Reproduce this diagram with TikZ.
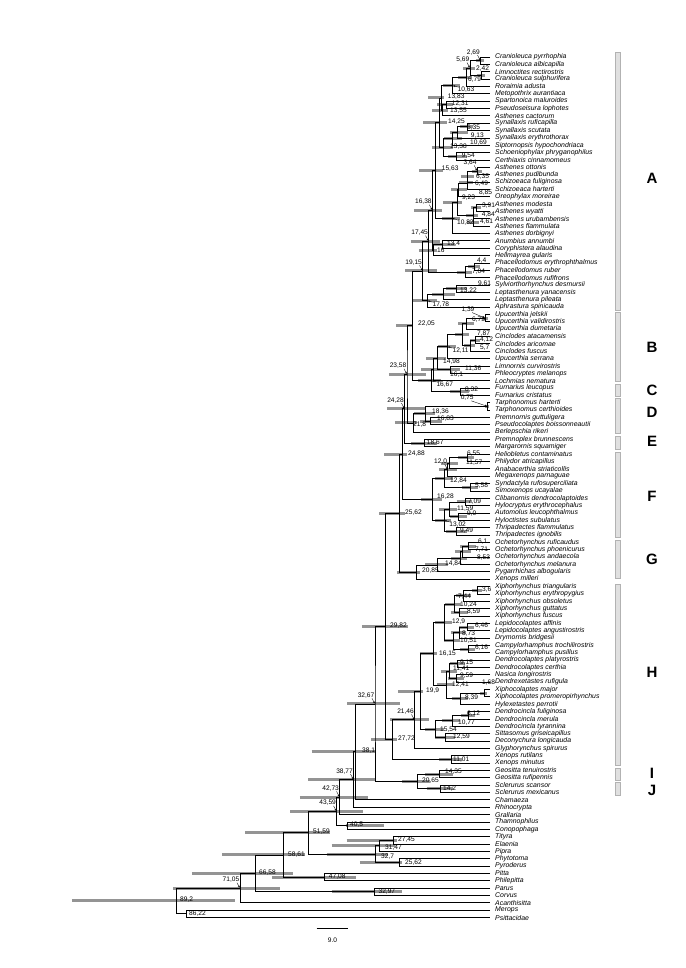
\documentclass[tikz,border=0pt]{standalone}
\usepackage{fontspec}
\setmainfont{Liberation Sans}
\usetikzlibrary{calc,arrows.meta}
\pgfdeclarelayer{bg}
\pgfsetlayers{bg,main}
\def\dc#1{\dcA#1..\relax}
\def\dcA#1.#2.#3\relax{#1\ifx\relax#2\relax\else,#2\fi}
\newcommand\tip[3]{%
  \expandafter\xdef\csname ty#1\endcsname{#2}%
  \coordinate (#1) at (490,{57+(#2-1)*7.355});
  \node[taxon] (lab#1) at (495,{57+(#2-1)*7.355}) {#3};}
\newcommand\nd[7][dflt]{%
  \pgfmathsetmacro\ndy{(\csname ty#4\endcsname+\csname ty#5\endcsname)/2}%
  \expandafter\xdef\csname ty#2\endcsname{\ndy}%
  \coordinate (#2) at ({490-3.52*#3},{57+(\ndy-1)*7.355});
  \begin{pgfonlayer}{bg}
  \draw[hpd] ({490-3.52*#7},{57+(\ndy-1)*7.355}) -- ({490-3.52*#6},{57+(\ndy-1)*7.355});
  \end{pgfonlayer}
  \draw[br] (#4) -| (#2) |- (#5);
  \def\curnd{#2}%
  \node[nlab,#1] (l#2) {\dc{#3}};}
\tikzset{
  br/.style={line width=0.8pt, draw=black},
  hpd/.style={line width=3pt, draw=black!42},
  nlab/.style={font=\fontsize{6.6}{7}\selectfont, inner sep=0pt},
  taxon/.style={anchor=west, font=\fontsize{6.9}{8}\selectfont\itshape, inner sep=0pt},
  arr/.style={-{Stealth[length=2pt,width=1.8pt]}, line width=0.35pt, shorten >=0.6pt},
  dflt/.style={at={(\curnd)}, anchor=west, xshift=4.5pt},
  L/.style 2 args={at={(#1,#2)}, anchor=west},
  ua/.style={at={(\curnd)}, anchor=south east, xshift=-0.5pt, yshift=5.5pt,
    append after command={([xshift=-2.5pt]\tikzlastnode.south east) edge[arr] (\curnd)}},
  da/.style={at={(\curnd)}, anchor=north west, xshift=5pt, yshift=-1.5pt,
    append after command={(\tikzlastnode.north west) edge[arr] (\curnd)}},
  cbar/.style={fill=black!12, draw=black!30, line width=0.4pt},
  clab/.style={font=\fontsize{15}{15}\selectfont\bfseries, inner sep=0pt}
}
\begin{document}
\begin{tikzpicture}[x=1pt,y=-1pt]
\useasboundingbox (0,0) rectangle (685,968);
\begin{pgfonlayer}{bg}
\fill[white] (0,0) rectangle (685,968);
\end{pgfonlayer}
% tips
\tip{T1}{1}{Cranioleuca pyrrhophia}
\tip{T2}{2}{Cranioleuca albicapilla}
\tip{T3}{3}{Limnoctites rectirostris}
\tip{T4}{4}{Cranioleuca sulphurifera}
\tip{T5}{5}{Roraimia adusta}
\tip{T6}{6}{Metopothrix aurantiaca}
\tip{T7}{7}{Spartonoica maluroides}
\tip{T8}{8}{Pseudoseisura lophotes}
\tip{T9}{9}{Asthenes cactorum}
\tip{T10}{10}{Synallaxis ruficapilla}
\tip{T11}{11}{Synallaxis scutata}
\tip{T12}{12}{Synallaxis erythrothorax}
\tip{T13}{13}{Siptornopsis hypochondriaca}
\tip{T14}{14}{Schoeniophylax phryganophilus}
\tip{T15}{15}{Certhiaxis cinnamomeus}
\tip{T16}{16}{Asthenes ottonis}
\tip{T17}{17}{Asthenes pudibunda}
\tip{T18}{18}{Schizoeaca fuliginosa}
\tip{T19}{19}{Schizoeaca harterti}
\tip{T20}{20}{Oreophylax moreirae}
\tip{T21}{21}{Asthenes modesta}
\tip{T22}{22}{Asthenes wyatti}
\tip{T23}{23}{Asthenes urubambensis}
\tip{T24}{24}{Asthenes flammulata}
\tip{T25}{25}{Asthenes dorbignyi}
\tip{T26}{26}{Anumbius annumbi}
\tip{T27}{27}{Coryphistera alaudina}
\tip{T28}{28}{Hellmayrea gularis}
\tip{T29}{29}{Phacellodomus erythrophthalmus}
\tip{T30}{30}{Phacellodomus ruber}
\tip{T31}{31}{Phacellodomus rufifrons}
\tip{T32}{32}{Sylviorthorhynchus desmursii}
\tip{T33}{33}{Leptasthenura yanacensis}
\tip{T34}{34}{Leptasthenura pileata}
\tip{T35}{35}{Aphrastura spinicauda}
\tip{T36}{36}{Upucerthia jelskii}
\tip{T37}{37}{Upucerthia validirostris}
\tip{T38}{38}{Upucerthia dumetaria}
\tip{T39}{39}{Cinclodes atacamensis}
\tip{T40}{40}{Cinclodes aricomae}
\tip{T41}{41}{Cinclodes fuscus}
\tip{T42}{42}{Upucerthia serrana}
\tip{T43}{43}{Limnornis curvirostris}
\tip{T44}{44}{Phleocryptes melanops}
\tip{T45}{45}{Lochmias nematura}
\tip{T46}{46}{Furnarius leucopus}
\tip{T47}{47}{Furnarius cristatus}
\tip{T48}{48}{Tarphonomus harterti}
\tip{T49}{49}{Tarphonomus certhioides}
\tip{T50}{50}{Premnornis guttuligera}
\tip{T51}{51}{Pseudocolaptes boissonneautii}
\tip{T52}{52}{Berlepschia rikeri}
\tip{T53}{53}{Premnoplex brunnescens}
\tip{T54}{54}{Margarornis squamiger}
\tip{T55}{55}{Heliobletus contaminatus}
\tip{T56}{56}{Philydor atricapillus}
\tip{T57}{57}{Anabacerthia striaticollis}
\tip{T58}{58}{Megaxenops parnaguae}
\tip{T59}{59}{Syndactyla rufosuperciliata}
\tip{T60}{60}{Simoxenops ucayalae}
\tip{T61}{61}{Clibanornis dendrocolaptoides}
\tip{T62}{62}{Hylocryptus erythrocephalus}
\tip{T63}{63}{Automolus leucophthalmus}
\tip{T64}{64}{Hyloctistes subulatus}
\tip{T65}{65}{Thripadectes flammulatus}
\tip{T66}{66}{Thripadectes ignobilis}
\tip{T67}{67}{Ochetorhynchus ruficaudus}
\tip{T68}{68}{Ochetorhynchus phoenicurus}
\tip{T69}{69}{Ochetorhynchus andaecola}
\tip{T70}{70}{Ochetorhynchus melanura}
\tip{T71}{71}{Pygarrhichas albogularis}
\tip{T72}{72}{Xenops milleri}
\tip{T73}{73}{Xiphorhynchus triangularis}
\tip{T74}{74}{Xiphorhynchus erythropygius}
\tip{T75}{75}{Xiphorhynchus obsoletus}
\tip{T76}{76}{Xiphorhynchus guttatus}
\tip{T77}{77}{Xiphorhynchus fuscus}
\tip{T78}{78}{Lepidocolaptes affinis}
\tip{T79}{79}{Lepidocolaptes angustirostris}
\tip{T80}{80}{Drymornis bridgesii}
\tip{T81}{81}{Campylorhamphus trochilirostris}
\tip{T82}{82}{Campylorhamphus pusillus}
\tip{T83}{83}{Dendrocolaptes platyrostris}
\tip{T84}{84}{Dendrocolaptes certhia}
\tip{T85}{85}{Nasica longirostris}
\tip{T86}{86}{Dendrexetastes rufigula}
\tip{T87}{87}{Xiphocolaptes major}
\tip{T88}{88}{Xiphocolaptes promeropirhynchus}
\tip{T89}{89}{Hylexetastes perrotii}
\tip{T90}{90}{Dendrocincla fuliginosa}
\tip{T91}{91}{Dendrocincla merula}
\tip{T92}{92}{Dendrocincla tyrannina}
\tip{T93}{93}{Sittasomus griseicapillus}
\tip{T94}{94}{Deconychura longicauda}
\tip{T95}{95}{Glyphorynchus spirurus}
\tip{T96}{96}{Xenops rutilans}
\tip{T97}{97}{Xenops minutus}
\tip{T98}{98}{Geositta tenuirostris}
\tip{T99}{99}{Geositta rufipennis}
\tip{T100}{100}{Sclerurus scansor}
\tip{T101}{101}{Sclerurus mexicanus}
\tip{T102}{102}{Chamaeza}
\tip{T103}{103}{Rhinocrypta}
\tip{T104}{104}{Grallaria}
\tip{T105}{105}{Thamnophilus}
\tip{T106}{106}{Conopophaga}
\tip{T107}{107}{Tityra}
\tip{T108}{108}{Elaenia}
\tip{T109}{109}{Pipra}
\tip{T110}{110}{Phytotoma}
\tip{T111}{111}{Pyroderus}
\tip{T112}{112}{Pitta}
\tip{T113}{113}{Philepitta}
\tip{T114}{114}{Parus}
\tip{T115}{115}{Corvus}
\tip{T116}{116}{Acanthisitta}
\tip{T117}{117}{Merops}
\tip{T118}{118}{Psittacidae}
% clade A
\nd[ua]{n1}{2.69}{T1}{T2}{1.8}{4.0}
\nd[L={476}{68.3}]{n2}{2.42}{T3}{T4}{1.5}{3.8}
\nd[ua]{n3}{5.69}{n1}{n2}{4.2}{7.6}
\nd[L={468}{80}]{n4}{6.79}{n3}{T5}{5.0}{9.0}
\nd[da]{n5}{10.63}{n4}{T6}{8.4}{13.4}
\nd[L={451.7}{104}]{n6}{12.31}{T7}{T8}{10.5}{15.0}
\nd[L={450}{111}]{n7}{13.55}{n6}{T9}{11.8}{16.5}
\nd[L={447.7}{96.7}]{n8}{13.83}{n5}{n7}{13.0}{17.6}
\nd[L={467}{128}]{n9}{6.35}{T10}{T11}{4.8}{8.5}
\nd[L={470.7}{135.7}]{n10}{9.13}{n9}{T12}{6.2}{11.4}
\nd[L={470}{142.3}]{n11}{10.69}{n10}{T13}{8.0}{13.0}
\nd[L={461.7}{155.7}]{n12}{9.54}{T14}{T15}{6.5}{12.0}
\nd[L={450}{146.7}]{n13}{13.38}{n11}{n12}{10.5}{16.5}
\nd[L={448}{121.7}]{n14}{14.25}{n8}{n13}{12.2}{19.0}
\nd[ua]{n15}{3.64}{T16}{T17}{2.2}{5.2}
\nd[L={476}{176.7}]{n16}{6.35}{n15}{T18}{4.5}{8.3}
\nd[L={475}{184}]{n17}{6.49}{n16}{T19}{4.8}{8.8}
\nd[L={479}{192.3}]{n18}{8.85}{n17}{T20}{6.5}{11.0}
\nd[L={482}{205.7}]{n19}{3.91}{T21}{T22}{2.5}{5.5}
\nd[L={480}{222}]{n20}{4.61}{T23}{T24}{3.0}{6.4}
\nd[L={481.7}{215}]{n21}{4.84}{n19}{n20}{3.5}{6.8}
\nd[L={462}{197.3}]{n22}{9.23}{n18}{n21}{8.0}{13.4}
\nd[da]{n23}{10.82}{n22}{T25}{8.5}{13.5}
\nd[L={441.7}{169}]{n24}{15.63}{n14}{n23}{13.4}{20.2}
\nd[L={447}{244}]{n25}{13.4}{T26}{T27}{10}{16.5}
\nd[L={437}{250}]{n26}{16}{n25}{T28}{15.1}{20.2}
\nd[ua]{n27}{16.38}{n24}{n26}{13.5}{21.6}
\nd[L={477}{260.7}]{n28}{4.4}{T29}{T30}{2.8}{6.2}
\nd[L={472}{271.7}]{n29}{7.04}{n28}{T31}{5.0}{9.5}
\nd[ua]{n30}{17.45}{n27}{n29}{14.2}{22.5}
\nd[L={478}{284}]{n31}{9.61}{T32}{T33}{6.5}{12.5}
\nd[L={460}{290.7}]{n32}{13.22}{n31}{T34}{10}{16.5}
\nd[da]{n33}{17.78}{n32}{T35}{15.1}{22.0}
\nd[ua]{n34}{19.15}{n30}{n33}{15.1}{24.1}
% clade B, C
\nd[ua,xshift=-10pt]{n35}{1.39}{T36}{T37}{0.7}{2.3}
\nd[L={472}{320}]{n36}{6.73}{n35}{T38}{4.5}{9}
\nd[L={480}{340}]{n37}{4.12}{T39}{T40}{2.8}{5.6}
\nd[L={480}{347.3}]{n38}{5.7}{n37}{T41}{4.2}{7.4}
\nd[L={477}{333.3}]{n39}{7.87}{n36}{n38}{6}{10}
\nd[da]{n40}{12.11}{n39}{T42}{9.8}{14.8}
\nd[L={465}{369}]{n41}{11.36}{T43}{T44}{8.5}{14.5}
\nd[L={443}{361.7}]{n42}{14.98}{n40}{n41}{12.5}{18.2}
\nd[L={450}{374.3}]{n43}{16.1}{n42}{T45}{13.5}{19.5}
\nd[L={465}{390}]{n44}{8.32}{T46}{T47}{6}{11.5}
\nd[da]{n45}{16.67}{n43}{n44}{14}{20.5}
\nd[L={418}{323.3}]{n46}{22.05}{n34}{n45}{22.0}{26.7}
% clade D, E
\nd[ua,xshift=-13pt]{n47}{0.75}{T48}{T49}{0.3}{1.3}
\nd[L={437}{419}]{n48}{16.83}{T50}{T51}{13.5}{20}
\nd[L={432}{411.7}]{n49}{18.36}{n47}{n48}{15.5}{21.5}
\nd[L={413}{425}]{n50}{21.8}{n49}{T52}{20.8}{27}
\nd[ua]{n51}{23.58}{n46}{n50}{18.2}{28.7}
\nd[L={426.7}{442.3}]{n52}{18.67}{T53}{T54}{15}{22.5}
\nd[ua]{n53}{24.28}{n51}{n52}{18.5}{29.3}
% clade F
\nd[L={467}{454}]{n54}{6.55}{T55}{T56}{4.5}{9}
\nd[L={466}{462.3}]{n55}{11.57}{n54}{T57}{9}{14}
\nd[ua]{n56}{12.0}{n55}{T58}{9.5}{14.5}
\nd[L={475}{486}]{n57}{5.58}{T59}{T60}{3.5}{8}
\nd[L={450}{480.7}]{n58}{12.84}{n56}{n57}{10.5}{15.5}
\nd[L={468}{501.7}]{n59}{7.09}{T61}{T62}{5}{9.5}
\nd[L={467}{513.3}]{n60}{9.0}{T63}{T64}{6.5}{11.5}
\nd[L={457}{508.3}]{n61}{11.59}{n59}{n60}{9.5}{14.5}
\nd[L={460}{530.7}]{n62}{9.49}{T65}{T66}{6.5}{12.5}
\nd[da]{n63}{13.02}{n61}{n62}{11}{15.5}
\nd[L={437}{497}]{n64}{16.28}{n58}{n63}{13.5}{19.5}
\nd[L={408}{453.3}]{n65}{24.88}{n53}{n64}{23.6}{30.1}
% clade G
\nd[L={478}{541.7}]{n66}{6.1}{T67}{T68}{4}{8.5}
\nd[L={475}{550}]{n67}{7.71}{n66}{T69}{5.5}{10}
\nd[L={477}{557.3}]{n68}{8.53}{n67}{T70}{6.5}{11}
\nd[L={445}{563.7}]{n69}{14.84}{n68}{T71}{12}{18.5}
\nd[L={422}{571}]{n70}{20.85}{n69}{T72}{19.9}{26.4}
\nd[L={405}{512.3}]{n71}{25.62}{n65}{n70}{24.1}{31.5}
% clade H
\nd[L={482}{590}]{n72}{3.6}{T73}{T74}{2.2}{5.2}
\nd[L={458}{596.7}]{n73}{7.44}{n72}{T75}{5.5}{9.8}
\nd[L={467}{611.7}]{n74}{8.59}{T76}{T77}{6.3}{11}
\nd[L={460}{604.3}]{n75}{10.24}{n73}{n74}{8.2}{12.8}
\nd[L={475}{625.7}]{n76}{6.46}{T78}{T79}{4.5}{8.8}
\nd[L={462}{633.3}]{n77}{8.73}{n76}{T80}{6.8}{11}
\nd[L={475}{647.7}]{n78}{6.16}{T81}{T82}{4.2}{8.5}
\nd[L={460}{641}]{n79}{10.51}{n77}{n78}{8.5}{13}
\nd[L={452}{621.7}]{n80}{12.9}{n75}{n79}{10.8}{15.5}
\nd[L={460}{662.3}]{n81}{9.15}{T83}{T84}{7}{11.5}
\nd[L={460}{675.7}]{n82}{9.59}{T85}{T86}{7.5}{12}
\nd[L={453}{668.3}]{n83}{11.41}{n81}{n82}{9.5}{14}
\nd[L={482}{682.3}]{n84}{1.68}{T87}{T88}{0.8}{2.8}
\nd[L={465}{697.3}]{n85}{8.39}{n84}{T89}{6.2}{10.8}
\nd[L={452}{684.3}]{n86}{12.41}{n83}{n85}{10.2}{15}
\nd[L={439}{653.3}]{n87}{16.15}{n80}{n86}{15.1}{19.9}
\nd[L={467}{714}]{n88}{6.12}{T90}{T91}{4.2}{8.3}
\nd[L={458}{722.7}]{n89}{10.77}{n88}{T92}{8.5}{13.5}
\nd[L={453}{736.7}]{n90}{12.59}{T93}{T94}{10}{15.5}
\nd[L={440}{730}]{n91}{15.54}{n89}{n90}{13}{18.5}
\nd[L={426}{690.7}]{n92}{19.9}{n87}{n91}{19}{26.1}
\nd[ua]{n93}{21.46}{n92}{T95}{17.2}{28.4}
\nd[L={453}{759.3}]{n94}{11.01}{T96}{T97}{8}{14.5}
\nd[L={398}{738.3}]{n95}{27.72}{n93}{n94}{26.5}{33.8}
\nd[L={390}{626}]{n96}{29.82}{n71}{n95}{23.2}{36.4}
% clades I, J and outgroups
\nd[L={445}{771.7}]{n97}{14.35}{T98}{T99}{10.5}{18.5}
\nd[L={443}{788.3}]{n98}{14.2}{T100}{T101}{10.5}{18}
\nd[L={422}{781}]{n99}{20.65}{n97}{n98}{17}{25}
\nd[ua]{n100}{32.67}{n96}{n99}{25.6}{40.6}
\nd[L={362}{750.7}]{n101}{38.1}{n100}{T102}{32.7}{50.7}
\nd[ua]{n102}{38.77}{n101}{T103}{32.7}{51.7}
\nd[ua]{n103}{42.73}{n102}{T104}{34.7}{54}
\nd[L={350}{824.3}]{n104}{40.5}{T105}{T106}{30}{41}
\nd[ua]{n105}{43.59}{n103}{n104}{36}{56.8}
\nd[L={398}{840}]{n106}{27.45}{T107}{T108}{26.5}{40.7}
\nd[L={385}{847.3}]{n107}{31.47}{n106}{T109}{27}{45}
\nd[L={405}{862.3}]{n108}{25.62}{T110}{T111}{25}{37}
\nd[L={381}{856.7}]{n109}{32.7}{n107}{n108}{29}{46.4}
\nd[L={313}{831.5}]{n110}{51.59}{n105}{n109}{45.5}{69.6}
\nd{n111}{47.08}{T112}{T113}{38}{62}
\nd[L={288}{854.3}]{n112}{58.61}{n110}{n111}{52.6}{76.2}
\nd{n113}{32.97}{T114}{T115}{25}{45}
\nd[L={259}{872.7}]{n114}{66.58}{n112}{n113}{56}{84.7}
\nd[ua]{n115}{71.05}{n114}{T116}{59.7}{90}
\nd[L={189}{913.3}]{n116}{86.22}{T117}{T118}{86.22}{86.22}
\nd[L={180}{900}]{n117}{89.2}{n115}{n116}{72.4}{118.8}
% clade bars and letters
\path[cbar] (615,52) rectangle (620.5,310);
\path[cbar] (615,312.5) rectangle (620.5,381);
\path[cbar] (615,384) rectangle (620.5,396.4);
\path[cbar] (615,398.6) rectangle (620.5,433);
\path[cbar] (615,436) rectangle (620.5,449.6);
\path[cbar] (615,452.4) rectangle (620.5,537.4);
\path[cbar] (615,540) rectangle (620.5,578.5);
\path[cbar] (615,584) rectangle (620.5,765);
\path[cbar] (615,767.8) rectangle (620.5,780.4);
\path[cbar] (615,782.6) rectangle (620.5,795);
\node[clab] (cA) at (652,178) {A};
\node[clab] (cB) at (652,347) {B};
\node[clab] (cC) at (652,390) {C};
\node[clab] (cD) at (652,412) {D};
\node[clab] (cE) at (652,441) {E};
\node[clab] (cF) at (652,496) {F};
\node[clab] (cG) at (652,559) {G};
\node[clab] (cH) at (652,672) {H};
\node[clab] (cI) at (652,773) {I};
\node[clab] (cJ) at (652,790) {J};
% scale bar
\coordinate (s1) at (316.7,928.3);
\coordinate (s2) at (348.4,928.3);
\draw[line width=0.8pt] (s1) -- (s2);
\node[nlab] (sl) at (332.5,940) {9.0};
\end{tikzpicture}
\end{document}
